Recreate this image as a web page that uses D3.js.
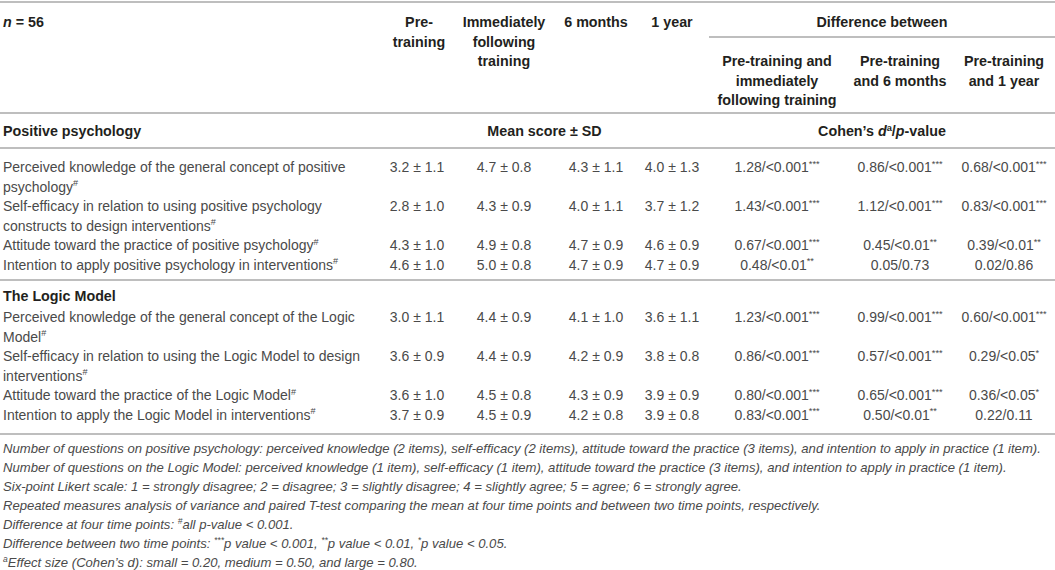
<!DOCTYPE html>
<html>
<head>
<meta charset="utf-8">
<script src="https://cdn.jsdelivr.net/npm/d3@7/dist/d3.min.js"></script>
<style>
  body { margin: 0; background: #fff; }
  svg text { font-family: "Liberation Sans", Arial, sans-serif; }
</style>
</head>
<body>
<svg id="tbl" width="1055" height="570"></svg>
<script>
// ---- data ----
const sampleSize = 56;
const timeHeads = [["Pre-", "training"], ["Immediately", "following", "training"], ["6 months"], ["1 year"]];
const diffHeads = [["Pre-training and", "immediately", "following training"], ["Pre-training", "and 6 months"], ["Pre-training", "and 1 year"]];
const sectionNames = ["Positive psychology", "The Logic Model"];
const itemSection = [0, 0, 0, 0, 1, 1, 1, 1];
const itemLabels = [
  ["Perceived knowledge of the general concept of positive", "psychology"],
  ["Self-efficacy in relation to using positive psychology", "constructs to design interventions"],
  ["Attitude toward the practice of positive psychology"],
  ["Intention to apply positive psychology in interventions"],
  ["Perceived knowledge of the general concept of the Logic", "Model"],
  ["Self-efficacy in relation to using the Logic Model to design", "interventions"],
  ["Attitude toward the practice of the Logic Model"],
  ["Intention to apply the Logic Model in interventions"]
];
const meanScores = [
  [3.2, 4.7, 4.3, 4.0], [2.8, 4.3, 4.0, 3.7], [4.3, 4.9, 4.7, 4.6], [4.6, 5.0, 4.7, 4.7],
  [3.0, 4.4, 4.1, 3.6], [3.6, 4.4, 4.2, 3.8], [3.6, 4.5, 4.3, 3.9], [3.7, 4.5, 4.2, 3.9]
];
const sdScores = [
  [1.1, 0.8, 1.1, 1.3], [1.0, 0.9, 1.1, 1.2], [1.0, 0.8, 0.9, 0.9], [1.0, 0.8, 0.9, 0.9],
  [1.1, 0.9, 1.0, 1.1], [0.9, 0.9, 0.9, 0.8], [1.0, 0.8, 0.9, 0.9], [0.9, 0.9, 0.8, 0.8]
];
const cohenD = [
  ["1.28", "0.86", "0.68"], ["1.43", "1.12", "0.83"], ["0.67", "0.45", "0.39"], ["0.48", "0.05", "0.02"],
  ["1.23", "0.99", "0.60"], ["0.86", "0.57", "0.29"], ["0.80", "0.65", "0.36"], ["0.83", "0.50", "0.22"]
];
const pValues = [
  ["<0.001", "<0.001", "<0.001"], ["<0.001", "<0.001", "<0.001"], ["<0.001", "<0.01", "<0.01"], ["<0.01", "0.73", "0.86"],
  ["<0.001", "<0.001", "<0.001"], ["<0.001", "<0.001", "<0.05"], ["<0.001", "<0.001", "<0.05"], ["<0.001", "<0.01", "0.11"]
];
const footNotes = [
  [{t: "Number of questions on positive psychology: perceived knowledge (2 items), self-efficacy (2 items), attitude toward the practice (3 items), and intention to apply in practice (1 item)."}],
  [{t: "Number of questions on the Logic Model: perceived knowledge (1 item), self-efficacy (1 item), attitude toward the practice (3 items), and intention to apply in practice (1 item)."}],
  [{t: "Six-point Likert scale: 1 = strongly disagree; 2 = disagree; 3 = slightly disagree; 4 = slightly agree; 5 = agree; 6 = strongly agree."}],
  [{t: "Repeated measures analysis of variance and paired T-test comparing the mean at four time points and between two time points, respectively."}],
  [{t: "Difference at four time points: "}, {t: "#", sup: true}, {t: "all p-value < 0.001."}],
  [{t: "Difference between two time points: "}, {t: "***", sup: true}, {t: "p value < 0.001, "}, {t: "**", sup: true}, {t: "p value < 0.01, "}, {t: "*", sup: true}, {t: "p value < 0.05."}],
  [{t: "a", sup: true}, {t: "Effect size (Cohen\u2019s d): small = 0.20, medium = 0.50, and large = 0.80."}]
];

function stars(p) {
  if (p == "<0.001") return "***";
  if (p == "<0.01") return "**";
  if (p == "<0.05") return "*";
  return "";
}

// ---- layout ----
const W = 1055;
const lineH = 19.5;
const colKeys = ["pre", "post", "m6", "y1", "d1", "d2", "d3"];
const x = d3.scaleOrdinal().domain(colKeys).range([417, 504, 596, 672, 777, 900, 1004]);
const labelX = 3;
const ruleColor = "#a9a9a9";
const darkText = "#231f20";
const bodyText = "#4a4a4a";
const headSize = 14.3, bodySize = 14, noteSize = 13.1;

const svg = d3.select("#tbl");

// writes a text element made of segments (italic / superscript)
function richText(parent, px, py, segs, o) {
  let t = parent.append("text")
      .attr("x", px)
      .attr("y", py)
      .attr("text-anchor", o.anchor || "start")
      .style("font-size", o.size + "px")
      .style("font-weight", o.bold ? "bold" : "normal")
      .style("font-style", o.italic ? "italic" : "normal")
      .style("fill", o.color);
  let up = false;
  segs.forEach(function (s) {
    let sp = t.append("tspan").text(s.t);
    if (s.it) sp.style("font-style", "italic");
    if (s.sup) {
      sp.style("font-size", (o.size * 0.65) + "px");
      if (!up) { sp.attr("dy", -o.size * 0.38); up = true; }
    }
    else if (up) { sp.attr("dy", o.size * 0.38); up = false; }
  });
  return t;
}

function rule(y, x0, x1) {
  svg.append("line")
      .attr("x1", x0).attr("x2", x1)
      .attr("y1", y).attr("y2", y)
      .style("stroke", ruleColor)
      .style("stroke-width", 1.6);
}

// rules
rule(2, 0, W);
rule(37, 709, W);
rule(113, 0, W);
rule(148, 0, W);
rule(280, 0, W);
rule(434, 0, W);

// ---- header ----
richText(svg, labelX, 27, [{t: "n", it: true}, {t: " = " + sampleSize}], {size: headSize, bold: true, color: darkText});

timeHeads.forEach(function (lines, i) {
  lines.forEach(function (ln, j) {
    richText(svg, x(colKeys[i]) + (i == 0 ? 2 : 0), 27 + j * lineH, [{t: ln}], {size: headSize, bold: true, color: darkText, anchor: "middle"});
  });
});

richText(svg, (709 + W) / 2, 27, [{t: "Difference between"}], {size: headSize, bold: true, color: darkText, anchor: "middle"});
diffHeads.forEach(function (lines, i) {
  lines.forEach(function (ln, j) {
    richText(svg, x(colKeys[4 + i]), 66 + j * lineH, [{t: ln}], {size: headSize, bold: true, color: darkText, anchor: "middle"});
  });
});

// ---- sections + rows ----
const sectionTop = [136, 301];
const firstRowY = [172, 322];

sectionNames.forEach(function (name, s) {
  richText(svg, labelX, sectionTop[s], [{t: name}], {size: headSize, bold: true, color: darkText});
  if (s == 0) {
    richText(svg, (x("pre") + x("y1")) / 2, sectionTop[s], [{t: "Mean score \u00b1 SD"}], {size: headSize, bold: true, color: darkText, anchor: "middle"});
    richText(svg, (709 + W) / 2, sectionTop[s], [{t: "Cohen\u2019s "}, {t: "d", it: true}, {t: "a", sup: true}, {t: "/"}, {t: "p", it: true}, {t: "-value"}], {size: headSize, bold: true, color: darkText, anchor: "middle"});
  }

  let y = firstRowY[s];
  itemLabels.forEach(function (lines, i) {
    if (itemSection[i] != s) return;
    let g = svg.append("g").attr("class", "row");
    lines.forEach(function (ln, j) {
      let segs = [{t: ln}];
      if (j == lines.length - 1) segs.push({t: "#", sup: true});
      richText(g, labelX, y + j * lineH, segs, {size: bodySize, color: bodyText});
    });
    meanScores[i].forEach(function (m, k) {
      richText(g, x(colKeys[k]), y, [{t: m.toFixed(1) + " \u00b1 " + sdScores[i][k].toFixed(1)}], {size: bodySize, color: bodyText, anchor: "middle"});
    });
    cohenD[i].forEach(function (d, k) {
      let segs = [{t: d + "/" + pValues[i][k]}];
      let st = stars(pValues[i][k]);
      if (st) segs.push({t: st, sup: true});
      richText(g, x(colKeys[4 + k]), y, segs, {size: bodySize, color: bodyText, anchor: "middle"});
    });
    y += lines.length * lineH;
  });
});

// ---- notes ----
footNotes.forEach(function (segs, i) {
  richText(svg, labelX, 453 + i * 19, segs, {size: noteSize, italic: true, color: bodyText});
});
</script>
</body>
</html>
